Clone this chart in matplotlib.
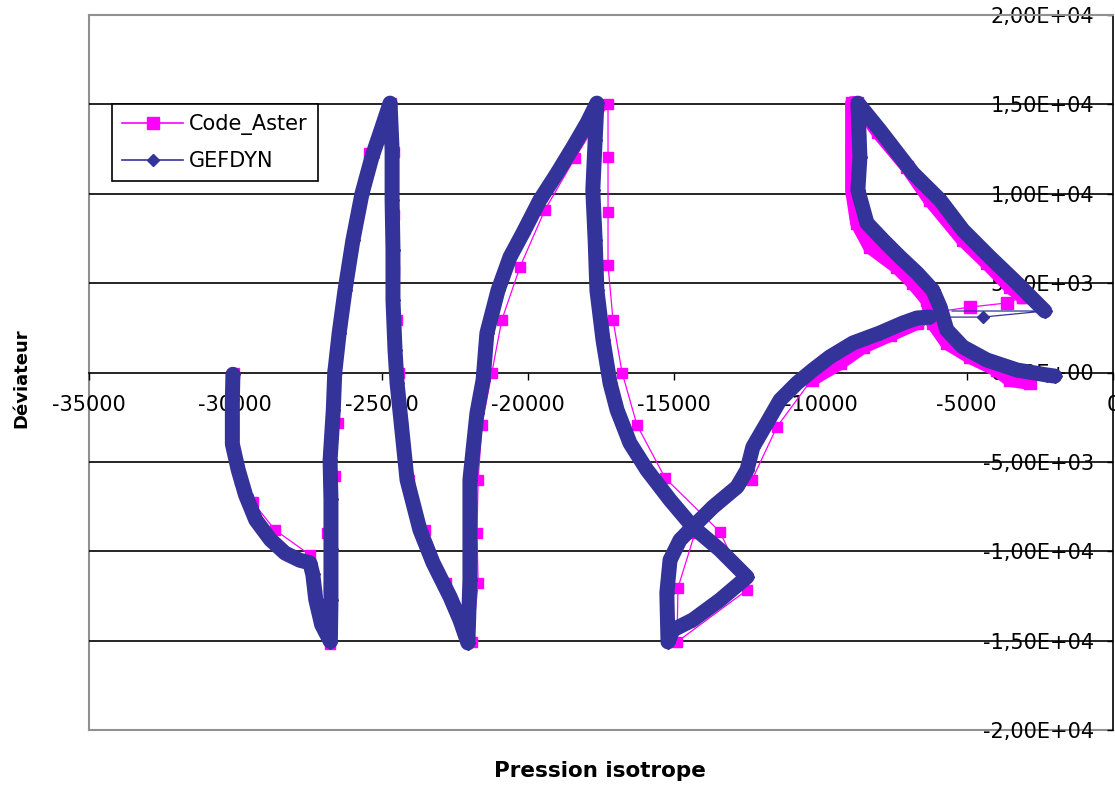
import matplotlib
matplotlib.use("Agg")
import matplotlib.pyplot as plt
from matplotlib.lines import Line2D
from matplotlib.ticker import FuncFormatter

plt.rcParams['font.family'] = ['DejaVu Sans']

# GEFDYN : dense part of the path (cycles 1 to 3 and the return towards p = -6000)
gef_p_cycles = [-30080, -30100, -30100, -29900, -29650, -29300, -28800, -28300, -27800, -27450,
                -27350, -27250, -27050, -26750,
                -26730, -26730, -26730, -26760, -26650, -26600, -26450, -26250, -25980, -25670,
                -25330, -25050, -24710,
                -24640, -24640, -24610, -24610, -24540, -24470, -24130, -23690, -23240, -22660,
                -22320, -22050,
                -21980, -21980, -21740, -21530, -21400, -21020, -20610, -20170, -19590, -19000,
                -18460, -17980, -17640,
                -17700, -17780, -17700, -17640, -17430, -17190, -16950, -16510, -15930, -15140,
                -14360, -13430, -12510, -13430, -14360, -15040, -15210,
                -15250, -15140, -14800, -14360, -13670, -12850, -12510, -12310, -11830, -11380,
                -10800, -10260, -9680, -8890, -7970, -7180, -6700, -6260]
gef_q_cycles = [-100, -1500, -4000, -5450, -6850, -8250, -9350, -10100, -10500, -10650,
                -11300, -12700, -14100, -15050,
                -12700, -9900, -7100, -4900, -2100, 0, 2200, 4600, 7400, 10000,
                12050, 13400, 15070,
                12450, 9650, 6850, 4050, 1250, -600, -6000, -8800, -10650, -12550,
                -13850, -15130,
                -11600, -6000, -2270, -420, 2200, 4600, 6460, 7800, 9650, 11150,
                12600, 13950, 15070,
                13000, 10200, 7400, 4600, 1800, -600, -2100, -3950, -5450, -7130,
                -8640, -9930, -11440, -12720, -13840, -14400, -15070,
                -12330, -10490, -9370, -8640, -7520, -6400, -5450, -4170, -2820, -1540,
                -590, 140, 870, 1650, 2210, 2770, 3050, 3100]

# GEFDYN : the few isolated points of the jump
gef_p_jump = [-6260, -4450, -2330, -5500]
gef_q_jump = [3100, 3100, 3440, 3440]

# GEFDYN : last cycle (dense)
gef_p_last = [-2330, -3280, -4210, -5130, -5910, -6840, -7970, -8720, -8650, -8720, -8410,
              -7860, -7280, -6700, -6160, -5910, -5680, -5130, -4310, -3280, -2260, -1990]
gef_q_last = [3440, 5000, 6460, 7970, 9650, 11160, 13560, 15070, 12050, 10200, 8360,
              7410, 6460, 5570, 4610, 3660, 2380, 1430, 700, 140, -140, -200]

# Code_Aster : sparse points of cycles 1 to 3
ca_p_cycles = [-30050, -30100, -29850, -29400, -28650, -27450, -27250, -26750,
               -26800, -26850, -26600, -26500, -26650, -26400, -26120, -25800, -25420, -24680,
               -24560, -24560, -24560, -24480, -24420, -24300, -24050, -23500, -22800, -21900,
               -21700, -21740, -21700, -21570, -21230, -20890, -20270, -19420, -18390, -17260,
               -17260, -17260, -17260, -17090, -16780, -16270, -15310, -13430, -12510, -14900,
               -14870, -14290, -12340, -11490, -10300]
ca_q_cycles = [0, -3000, -6000, -7250, -8800, -10200, -12400, -15200,
               -12000, -9000, -5800, -2850, 0, 3000, 6000, 9000, 12300, 15070,
               12330, 8800, 5730, 2940, 0, -3000, -6000, -8810, -11780, -15070,
               -11780, -8980, -6010, -2940, 0, 2940, 5900, 9090, 12000, 15000,
               12050, 8970, 6010, 2940, 0, -2940, -5900, -8920, -12170, -15070,
               -12050, -8980, -6010, -3050, -400]

# Code_Aster : dense return, jump and last cycle
ca_p_last = [-10300, -9330, -8550, -7620, -6700, -6260]
ca_q_last = [-400, 530, 1430, 2100, 2770, 3330]
ca_p_jump = [-6260, -4890, -3630, -3080]
ca_q_jump = [3330, 3660, 3890, 4220]
ca_p_loop = [-3080, -3520, -4310, -5130, -6260, -7040, -8040, -8750, -8920, -8920, -8920,
             -8750, -8310, -7390, -6840, -6360, -6160, -5680, -4890, -3970, -3520, -2840]
ca_q_loop = [4220, 4780, 6120, 7410, 9650, 11490, 13450, 15070, 15070, 12440, 10210,
             8360, 7020, 5900, 5010, 4060, 2770, 1650, 870, 140, -420, -590]

ca_color = '#FF00FF'
gef_color = '#333399'

fig = plt.figure(figsize=(11.15, 7.85), dpi=100)
ax = fig.add_axes([89 / 1115, 55 / 785, 1024 / 1115, 715 / 785])

# Code_Aster first (underneath)
ax.plot(ca_p_cycles, ca_q_cycles, color=ca_color, lw=0.9, marker='s', ms=7.5, zorder=3)
for p, q in [(ca_p_last, ca_q_last), (ca_p_loop, ca_q_loop)]:
    ax.plot(p, q, color=ca_color, lw=10, solid_joinstyle='round', solid_capstyle='round',
            marker='s', ms=8, zorder=3)
ax.plot(ca_p_jump, ca_q_jump, color=ca_color, lw=0.9, marker='s', ms=8, zorder=3)

# GEFDYN on top
for p, q in [(gef_p_cycles, gef_q_cycles), (gef_p_last, gef_q_last)]:
    ax.plot(p, q, color=gef_color, lw=10.8, solid_joinstyle='round', solid_capstyle='round',
            marker='D', ms=7, zorder=4)
ax.plot(gef_p_jump, gef_q_jump, color=gef_color, lw=0.9, marker='D', ms=6,
        markevery=[0, 1, 2], zorder=4)

ax.set_xlim(-35000, 0)
ax.set_ylim(-20000, 20000)
ax.set_xticks(range(-35000, 1, 5000))
ax.set_yticks(range(-20000, 20001, 5000))
ax.xaxis.set_major_formatter(FuncFormatter(lambda v, pos: f"{v:.0f}"))
ax.yaxis.set_major_formatter(FuncFormatter(lambda v, pos: f"{v:.2E}".replace('.', ',')))

# axes crossing at zero, like the spreadsheet
ax.spines['bottom'].set_position(('data', 0))
ax.spines['left'].set_position(('data', 0))
ax.spines['right'].set_visible(False)
ax.spines['top'].set_color('#909090')
ax.spines['top'].set_linewidth(1.5)
for s in ['bottom', 'left']:
    ax.spines[s].set_color('black')
    ax.spines[s].set_linewidth(1.2)
    ax.spines[s].set_zorder(2)
ax.axvline(-35000, color='#909090', lw=1.5, clip_on=False, zorder=1)
ax.axhline(-20000, color='#909090', lw=1.5, clip_on=False, zorder=1)
for yv in [-15000, -10000, -5000, 5000, 10000, 15000]:
    ax.axhline(yv, color='black', lw=1.2, zorder=1)

ax.tick_params(axis='x', direction='out', length=5, width=1, pad=11, labelsize=15)
ax.tick_params(axis='y', direction='out', length=4.5, width=1, pad=9, labelsize=15)

h1 = Line2D([], [], color=ca_color, lw=1.2, marker='s', ms=9, label='Code_Aster')
h2 = Line2D([], [], color=gef_color, lw=1.2, marker='D', ms=6.5, label='GEFDYN')
leg = ax.legend(handles=[h1, h2], loc='upper left', bbox_to_anchor=(23 / 1024, 626 / 715),
                borderaxespad=0, frameon=True, fancybox=False, edgecolor='black', framealpha=1,
                fontsize=15, handlelength=2.9, handletextpad=0.3, labelspacing=0.75, borderpad=0.5)
leg.get_frame().set_linewidth(1.2)
leg.set_zorder(6)

fig.text(600 / 1115, 1 - 771 / 785, 'Pression isotrope', ha='center', va='center',
         fontsize=15.5, fontweight='bold')
fig.text(21 / 1115, 1 - 378 / 785, 'Déviateur', rotation=90, ha='center', va='center',
         fontsize=13, fontweight='bold')

fig.savefig('out.png', dpi=100, facecolor='white')
